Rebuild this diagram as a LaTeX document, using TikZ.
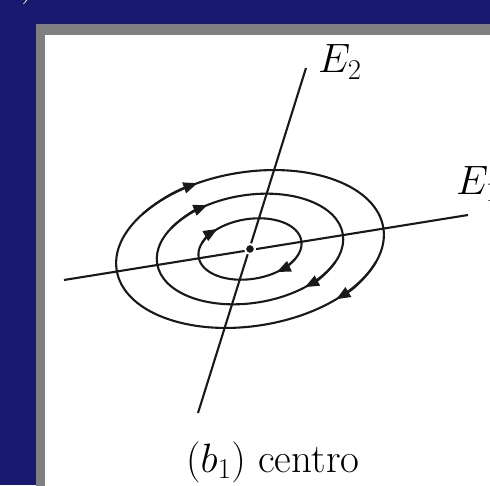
\documentclass[tikz,border=0pt]{standalone}
\usepackage{fix-cm}
\usepackage{xcolor}
\usetikzlibrary{arrows.meta, calc}
\definecolor{slidebg}{RGB}{25,25,112}
\definecolor{framec}{RGB}{128,128,128}
\definecolor{inkc}{RGB}{25,25,25}

\begin{document}
\begin{tikzpicture}[x=1pt, y=1pt,
    axis/.style={draw=inkc, line width=2.1pt},
    orbit/.style={draw=inkc, line width=2.1pt},
    flow/.style={-{Triangle[length=14pt, width=11pt]}, draw=inkc, line width=2.1pt},
    lbl/.style={font=\fontsize{41}{49}\selectfont, inner sep=0pt, text=black}]
  \clip (0,0) rectangle (490,485);
  \fill[slidebg] (0,0) rectangle (490,485);
  \fill[framec] (36,-10) rectangle (500,461);
  \fill[white] (45,-10) rectangle (500,450);
  \node[lbl, text=white, anchor=base west] (paren) at (21,490) {)};
  % axes
  \coordinate (O) at (250,236);
  \coordinate (e1w) at (64,205);
  \coordinate (e1e) at (468,270);
  \coordinate (e2s) at (198,72);
  \coordinate (e2n) at (306,417);
  \draw[axis] (e1w) -- (e1e);
  \draw[axis] (e2s) -- (e2n);
  % closed orbits, clockwise
  \begin{scope}[shift={(O)}, rotate=9]
    \foreach \a/\b/\ta/\tb in {52/30/124/-64, 94/54/112/-59, 135/77/108/-55} {
      \draw[orbit] (0,0) ellipse [x radius=\a pt, y radius=\b pt];
      \draw[flow] (\ta+30:\a pt and \b pt)
        arc[start angle=\ta+30, end angle=\ta, x radius=\a pt, y radius=\b pt];
      \draw[flow] (\tb+30:\a pt and \b pt)
        arc[start angle=\tb+30, end angle=\tb, x radius=\a pt, y radius=\b pt];
    }
  \end{scope}
  \node[circle, fill=inkc, draw=white, line width=2pt, minimum size=10pt,
    inner sep=0pt] (dot) at (O) {};
  % labels
  \node[lbl, anchor=base west] (E2) at (318,412) {$E_2$};
  \node[lbl, anchor=base west] (E1) at (456,290) {$E_1$};
  \node[lbl, anchor=base west] (cap) at (186,13) {$(b_1)$ centro};
\end{tikzpicture}
\end{document}
